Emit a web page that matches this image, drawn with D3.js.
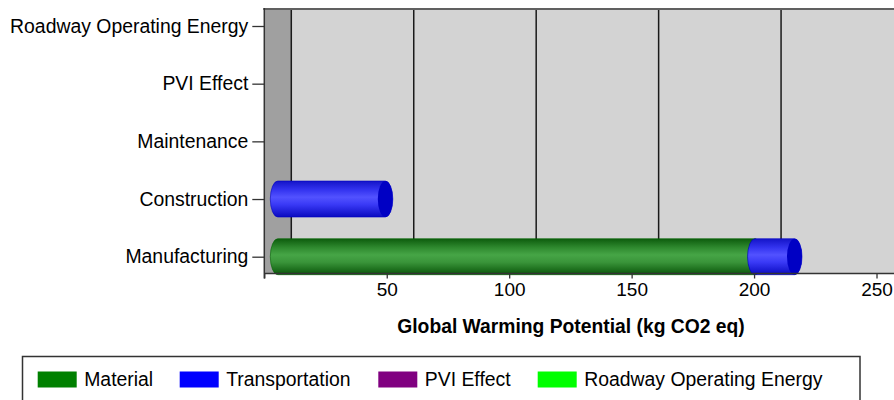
<!DOCTYPE html>
<html>
<head>
<meta charset="utf-8">
<script src="https://cdn.jsdelivr.net/npm/d3@7"></script>
<style>
  html, body { margin: 0; padding: 0; background: #fff; }
  svg { display: block; font-family: "Liberation Sans", Arial, sans-serif; }
</style>
</head>
<body>
<svg id="chart" width="894" height="400"></svg>
<script>
// Life-cycle stages (top to bottom) and the GWP contribution of each source
const categories = ["Roadway Operating Energy", "PVI Effect", "Maintenance", "Construction", "Manufacturing"];
const material = [0, 0, 0, 0, 194.9];
const transportation = [0, 0, 0, 43.9, 16.1];
const pviEffect = [0, 0, 0, 0, 0];
const roadwayEnergy = [0, 0, 0, 0, 0];

const seriesNames = ["Material", "Transportation", "PVI Effect", "Roadway Operating Energy"];
const seriesColors = ["#008000", "#0000ff", "#800080", "#00ff00"];
const xTicks = [0, 50, 100, 150, 200, 250];
const xTitle = "Global Warming Potential (kg CO2 eq)";

const rows = categories.map((c, i) => ({
  category: c,
  "Material": material[i],
  "Transportation": transportation[i],
  "PVI Effect": pviEffect[i],
  "Roadway Operating Energy": roadwayEnergy[i]
}));

const svg = d3.select("#chart");
const depth = 27;          // horizontal offset of the back wall
const plotTop = 9, plotBottom = 273.5;
const barH = 36, capRx = 7.5;
const fontSize = 19.4;

const x = d3.scaleLinear().domain([0, 260]).range([264.3, 901]);
const y = d3.scalePoint().domain(categories).range([26, 256.7]);

// Shading for the cylinders
const defs = svg.append("defs");
const shades = {
  "Material": { stops: ["#0d5c0d", "#2f8a2f", "#46a546", "#3a953a", "#0a560a"], cap: "#006400" },
  "Transportation": { stops: ["#1414c8", "#3434f0", "#5252ff", "#3a3af6", "#0a0ac0"], cap: "#0000c4" },
  "PVI Effect": { stops: ["#5a005a", "#7a107a", "#9a2a9a", "#851a85", "#560056"], cap: "#6a006a" },
  "Roadway Operating Energy": { stops: ["#00b000", "#20e020", "#50ff50", "#30f030", "#00a800"], cap: "#00c800" }
};
seriesNames.forEach((name, i) => {
  const g = defs.append("linearGradient")
    .attr("id", "grad" + i)
    .attr("x1", 0).attr("y1", 0).attr("x2", 0).attr("y2", 1);
  const offs = [0, 0.25, 0.45, 0.65, 1];
  shades[name].stops.forEach((c, k) => g.append("stop").attr("offset", offs[k]).attr("stop-color", c));
});

// Back wall (left side) and back plane
svg.append("rect")
  .attr("x", x(0)).attr("y", plotTop)
  .attr("width", depth).attr("height", plotBottom - plotTop)
  .attr("fill", "#a0a0a0");
svg.append("rect")
  .attr("x", x(0) + depth).attr("y", plotTop)
  .attr("width", 894 - x(0) - depth).attr("height", plotBottom - plotTop)
  .attr("fill", "#d3d3d3");

// Gridlines on the back plane
svg.append("g").selectAll("line")
  .data(xTicks)
  .join("line")
  .attr("x1", d => x(d) + depth).attr("x2", d => x(d) + depth)
  .attr("y1", plotTop).attr("y2", plotBottom)
  .attr("stroke", "#1a1a1a").attr("stroke-width", 1.5);

// Top border
svg.append("line")
  .attr("x1", x(0) - 1).attr("x2", 894)
  .attr("y1", plotTop).attr("y2", plotTop)
  .attr("stroke", "#606060").attr("stroke-width", 2);

// Stacked cylinder bars
const stack = d3.stack().keys(seriesNames);
const stacked = stack(rows);

function bodyPath(x0, x1, yc) {
  const t = yc - barH / 2, b = yc + barH / 2, ry = barH / 2;
  return `M${x0},${t} L${x1},${t} A${capRx},${ry} 0 0 1 ${x1},${b} L${x0},${b} A${capRx},${ry} 0 0 1 ${x0},${t} Z`;
}

const barLayer = svg.append("g");
stacked.forEach((s, si) => {
  const name = seriesNames[si];
  const segs = s.filter(d => d[1] - d[0] > 0);
  const g = barLayer.append("g");
  g.selectAll("path.body")
    .data(segs)
    .join("path")
    .attr("class", "body")
    .attr("d", d => bodyPath(x(d[0]) + depth / 2, x(d[1]) + depth / 2, y(d.data.category)))
    .attr("fill", `url(#grad${si})`)
    .attr("stroke", shades[name].cap)
    .attr("stroke-width", 0.6);
  g.selectAll("ellipse.cap")
    .data(segs)
    .join("ellipse")
    .attr("class", "cap")
    .attr("cx", d => x(d[1]) + depth / 2)
    .attr("cy", d => y(d.data.category))
    .attr("rx", capRx).attr("ry", barH / 2)
    .attr("fill", shades[name].cap);
});

// Axes
const yAxis = d3.axisLeft(y).tickSize(12).tickPadding(4);
const yG = svg.append("g").attr("transform", `translate(${x(0)},0)`).call(yAxis);
yG.select(".domain").remove();
yG.selectAll(".tick line").attr("stroke", "#333").attr("stroke-width", 1.3);
yG.selectAll(".tick text").attr("font-size", fontSize).attr("fill", "#000")
  .attr("font-family", "'Liberation Sans', Arial, sans-serif");

const xAxis = d3.axisBottom(x).tickValues(xTicks).tickSize(5).tickPadding(4).tickSizeOuter(0)
  .tickFormat(d => d === 0 ? "" : d);
const xG = svg.append("g").attr("transform", `translate(0,${plotBottom})`).call(xAxis);
xG.select(".domain").remove();
xG.selectAll(".tick line").attr("stroke", "#333").attr("stroke-width", 1.3);
xG.selectAll(".tick text").attr("font-size", 19).attr("fill", "#000")
  .attr("font-family", "'Liberation Sans', Arial, sans-serif");

// Axis lines
svg.append("line")
  .attr("x1", x(0)).attr("x2", x(0)).attr("y1", plotTop - 1).attr("y2", plotBottom + 5)
  .attr("stroke", "#333").attr("stroke-width", 1.5);
svg.append("line")
  .attr("x1", x(0)).attr("x2", 894).attr("y1", plotBottom).attr("y2", plotBottom)
  .attr("stroke", "#333").attr("stroke-width", 1.5);

// Axis title
svg.append("text")
  .attr("x", 571).attr("y", 333)
  .attr("text-anchor", "middle")
  .attr("font-size", 19.3).attr("font-weight", "bold").attr("fill", "#000")
  .text(xTitle);

// Legend
const legend = svg.append("g");
legend.append("rect")
  .attr("x", 22.5).attr("y", 356.5).attr("width", 837.5).attr("height", 60)
  .attr("fill", "#fff").attr("stroke", "#333").attr("stroke-width", 1.5);
const legendX = [37.7, 179.7, 378.3, 537.7];
const items = legend.selectAll("g.item")
  .data(seriesNames)
  .join("g")
  .attr("class", "item")
  .attr("transform", (d, i) => `translate(${legendX[i]},0)`);
items.append("rect")
  .attr("x", 0).attr("y", 371.5).attr("width", 39).attr("height", 16)
  .attr("fill", (d, i) => seriesColors[i]);
items.append("text")
  .attr("x", 46.5).attr("y", 386)
  .attr("font-size", fontSize).attr("fill", "#000")
  .text(d => d);
</script>
</body>
</html>
